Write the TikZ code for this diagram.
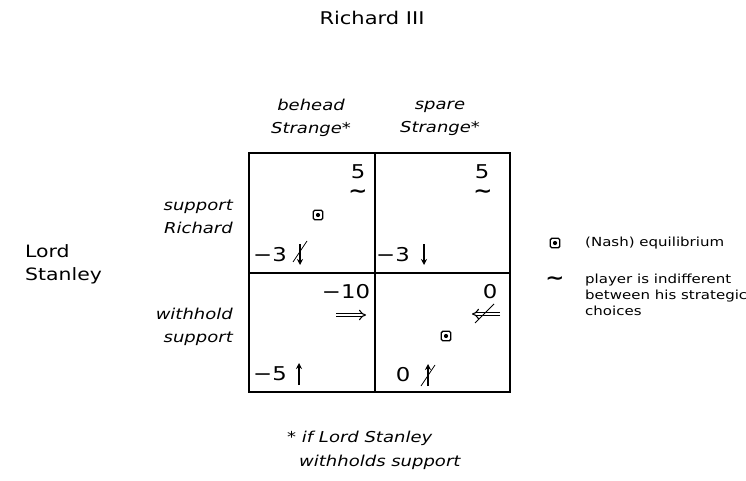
\documentclass[tikz,border=0pt]{standalone}
\usepackage{fontspec}
\setmainfont{DejaVu Sans}[FakeStretch=1.2]
\usetikzlibrary{arrows.meta}
\tikzset{
  lab/.style={font=\fontsize{15}{23}\selectfont\itshape, inner sep=0pt},
  big/.style={font=\fontsize{17}{23}\selectfont, inner sep=0pt},
  pay/.style={font=\fontsize{19}{23}\selectfont, inner sep=0pt},
  leg/.style={font=\fontsize{12.5}{16}\selectfont, inner sep=0pt, align=left},
  tild/.style={font=\fontsize{19}{19}\selectfont\bfseries, inner sep=0pt},
  eq/.style={draw, line width=1.4pt, rounded corners=1.5pt, minimum size=9.5pt, inner sep=0pt,
    path picture={\fill (path picture bounding box.center) circle (2.1pt);}},
  ar/.style={line width=1.3pt, -{Stealth[length=6pt,width=6pt]}},
  sl/.style={line width=0.8pt},
  dar/.style={double, double distance=2.4pt, line width=1.1pt, -{Implies[length=4.5pt]}},
  grid/.style={line width=1.8pt},
  igrid/.style={line width=2pt}
}
\begin{document}
\begin{tikzpicture}[x=1pt,y=-1pt]
\useasboundingbox (0,0) rectangle (746,481);
% grid
\draw[grid] (249,153) rectangle (510,392);
\draw[igrid] (374.5,153) -- (374.5,392);
\draw[igrid] (249,273) -- (510,273);
% headings
\node[big, font=\fontsize{17.5}{23}\selectfont] (title) at (372,18) {Richard III};
\node[lab, align=center] (colA) at (311,118) {behead\\Strange*};
\node[lab, align=center] (colB) at (440,118) {spare\\Strange*};
\node[lab, align=right, anchor=east] (rowA) at (233,217) {support\\Richard};
\node[lab, align=right, anchor=east] (rowB) at (233,327) {withhold\\support};
\node[big, align=left, anchor=west] (player) at (25,264) {Lord\\Stanley};
% cell top-left
\node[pay] (a5) at (358,172) {5};
\node[tild] (at) at (358,194) {\textasciitilde};
\node[eq] (aeq) at (318,215) {};
\node[pay] (a3) at (270,255) {−3};
\coordinate (a1) at (300,244); \coordinate (a2) at (300,265);
\draw[ar] (a1) -- (a2);
\draw[sl] (293,262) -- (307,241);
% cell top-right
\node[pay] (b5) at (482,172) {5};
\node[tild] (bt) at (483,194) {\textasciitilde};
\node[pay] (b3) at (393,255) {−3};
\coordinate (b1) at (424,244); \coordinate (b2) at (424,265);
\draw[ar] (b1) -- (b2);
% cell bottom-left
\node[pay] (c10) at (346,292) {−10};
\coordinate (c1) at (336,315); \coordinate (c2) at (366,315);
\draw[dar] (c1) -- (c2);
\node[pay] (c5) at (270,374) {−5};
\coordinate (c3) at (299,385); \coordinate (c4) at (299,363);
\draw[ar] (c3) -- (c4);
% cell bottom-right
\node[pay] (d0) at (490,292) {0};
\coordinate (d1) at (500,314); \coordinate (d2) at (472,314);
\draw[dar] (d1) -- (d2);
\draw[sl] (475,323) -- (494,304);
\node[eq] (deq) at (446,336) {};
\node[pay] (d00) at (403,375) {0};
\coordinate (d3) at (428,386); \coordinate (d4) at (428,364);
\draw[ar] (d3) -- (d4);
\draw[sl] (421,386) -- (435,365);
% legend
\node[eq] (leq) at (555,243) {};
\node[leg, anchor=west] (legA) at (585,243) {(Nash) equilibrium};
\node[tild] (lt) at (555,281) {\textasciitilde};
\node[leg, anchor=north west] (legB) at (585,274) {player is indifferent\\between his strategic\\choices};
% footnote
\node[lab, anchor=west] (f1) at (287,438) {* if Lord Stanley};
\node[lab, anchor=west] (f2) at (299,462) {withholds support};
\end{tikzpicture}
\end{document}
